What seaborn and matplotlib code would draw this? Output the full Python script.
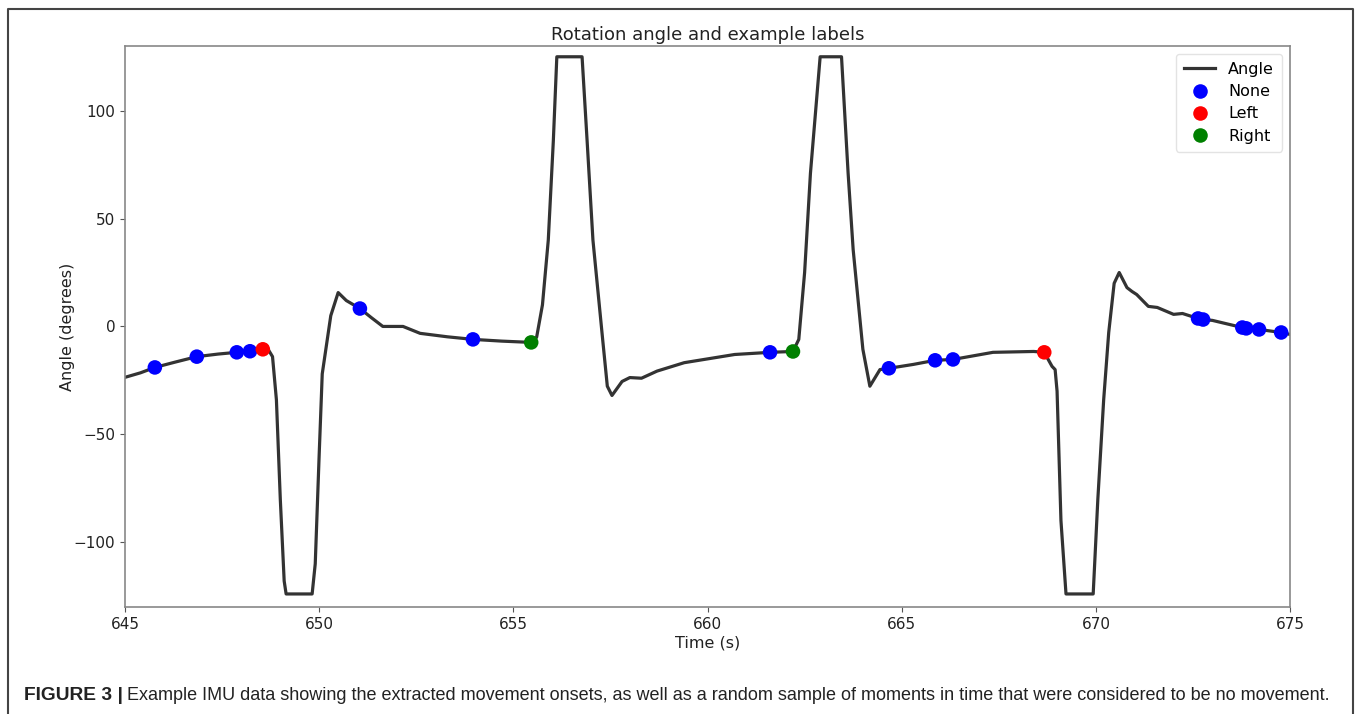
import matplotlib

matplotlib.use("Agg")
import matplotlib.pyplot as plt
import pandas as pd
import seaborn as sns

# rotation angle trace (time in s, angle in degrees)
time_s = [
    645.0, 645.4, 645.77, 646.3, 646.85, 647.4, 647.88, 648.22, 648.55, 648.7,
    648.8, 648.9, 649.0, 649.1, 649.15, 649.82, 649.9, 650.0, 650.08, 650.3,
    650.49, 650.7, 651.05, 651.35, 651.64, 652.16, 652.6, 653.3, 653.96, 654.7,
    655.46, 655.6, 655.75, 655.9, 656.03, 656.12, 656.77, 656.9, 657.05, 657.3,
    657.42, 657.54, 657.8, 658.0, 658.3, 658.7, 659.4, 660.7, 661.61, 662.2,
    662.35, 662.5, 662.65, 662.9, 663.45, 663.62, 663.75, 664.0, 664.18, 664.44,
    664.67, 665.3, 665.86, 666.32, 667.35, 668.4, 668.67, 668.87, 668.95, 669.0,
    669.1, 669.23, 669.93, 670.05, 670.2, 670.33, 670.47, 670.6, 670.8, 670.93,
    671.05, 671.35, 671.58, 672.0, 672.23, 672.63, 672.76, 673.0, 673.77, 673.87,
    674.2, 674.77, 675.0,
]
angle_deg = [
    -23.6, -21.5, -19.0, -16.5, -14.0, -12.8, -12.0, -11.5, -10.6, -11.0,
    -14.0, -34.0, -80.0, -118.0, -124.0, -124.0, -110.0, -60.0, -22.0, 5.0,
    15.7, 12.0, 8.3, 4.0, 0.0, 0.0, -3.2, -4.8, -6.0, -6.8,
    -7.4, -5.0, 10.0, 40.0, 86.0, 125.0, 125.0, 86.0, 40.0, -6.0,
    -27.7, -32.0, -25.5, -23.7, -24.0, -20.7, -16.8, -13.0, -12.0, -11.6,
    -6.0, 25.0, 71.0, 125.0, 125.0, 71.0, 35.6, -10.6, -27.7, -20.0,
    -19.4, -17.6, -15.7, -15.3, -12.0, -11.6, -12.0, -18.5, -20.0, -30.0,
    -90.0, -124.0, -124.0, -80.0, -34.0, -2.8, 20.0, 25.0, 18.0, 16.2,
    14.8, 9.3, 8.8, 5.6, 6.0, 3.7, 3.2, 2.8, -0.5, -0.9,
    -1.4, -2.8, -3.7,
]

# example labels
none_t = [645.77, 646.85, 647.88, 648.22, 651.05, 653.96, 661.61, 664.67,
          665.86, 666.32, 672.63, 672.76, 673.77, 673.87, 674.2, 674.77]
none_a = [-19.0, -14.0, -12.0, -11.5, 8.3, -6.0, -12.0, -19.4,
          -15.7, -15.3, 3.7, 3.2, -0.5, -0.9, -1.4, -2.8]
left_t = [648.55, 668.67]
left_a = [-10.6, -12.0]
right_t = [655.46, 662.2]
right_a = [-7.4, -11.6]

label_names = ["None", "Left", "Right"]
label_colors = ["blue", "red", "green"]

angle_df = pd.DataFrame({"time": time_s, "angle": angle_deg})
labels_df = pd.concat(
    [
        pd.DataFrame({"time": none_t, "angle": none_a, "label": "None"}),
        pd.DataFrame({"time": left_t, "angle": left_a, "label": "Left"}),
        pd.DataFrame({"time": right_t, "angle": right_a, "label": "Right"}),
    ],
    ignore_index=True,
)

fig = plt.figure(figsize=(13.58, 7.14), dpi=100)
ax = fig.add_axes([0.092, 0.150, 0.858, 0.7856])

sns.lineplot(data=angle_df, x="time", y="angle", color="#333333",
             linewidth=2.3, label="Angle", ax=ax, sort=False)
sns.scatterplot(data=labels_df, x="time", y="angle", hue="label",
                hue_order=label_names, palette=label_colors, s=110,
                edgecolor="none", ax=ax, zorder=3)

ax.set_xlim(645, 675)
ax.set_ylim(-130, 130)
ax.set_xticks([645, 650, 655, 660, 665, 670, 675])
ax.set_yticks([-100, -50, 0, 50, 100])
ax.set_yticklabels(["\u2212100", "\u221250", "0", "50", "100"])
ax.tick_params(labelsize=11, color="#555555", labelcolor="#222222")
for sp in ax.spines.values():
    sp.set_color("#888888")
    sp.set_linewidth(1.2)

ax.set_title("Rotation angle and example labels", fontsize=13, color="#222222",
             pad=4)
ax.set_xlabel("Time (s)", fontsize=11.5, color="#222222", labelpad=3)
ax.set_ylabel("Angle (degrees)", fontsize=11.5, color="#222222", labelpad=-1)

leg = ax.legend(loc="upper right", fontsize=11.5, markerscale=1.0,
                handlelength=2.0, borderpad=0.5, labelspacing=0.45)
leg.get_frame().set_edgecolor("#dddddd")

# figure frame (left, top, right) and caption
fx0, fx1, fy1 = 8 / 1358, 1353 / 1358, 1 - 9 / 714
fig.add_artist(plt.Line2D([fx0, fx0, fx1, fx1], [0, fy1, fy1, 0],
                          transform=fig.transFigure, color="#444444",
                          linewidth=1.5))
cap_font = ["Liberation Sans Narrow", "Liberation Sans", "DejaVu Sans"]
t1 = fig.text(24 / 1358, 1 - 695 / 714, "FIGURE 3 |", fontsize=13.8,
              fontweight="bold", va="center", ha="left", family=cap_font,
              color="#222222")
fig.canvas.draw()
bb = t1.get_window_extent()
fig.text((bb.x1 + 4) / 1358, 1 - 695 / 714,
         "Example IMU data showing the extracted movement onsets, as well as a random "
         "sample of moments in time that were considered to be no movement.",
         fontsize=13.0, va="center", ha="left", family=cap_font, color="#222222")

fig.savefig("out.png", dpi=100)
